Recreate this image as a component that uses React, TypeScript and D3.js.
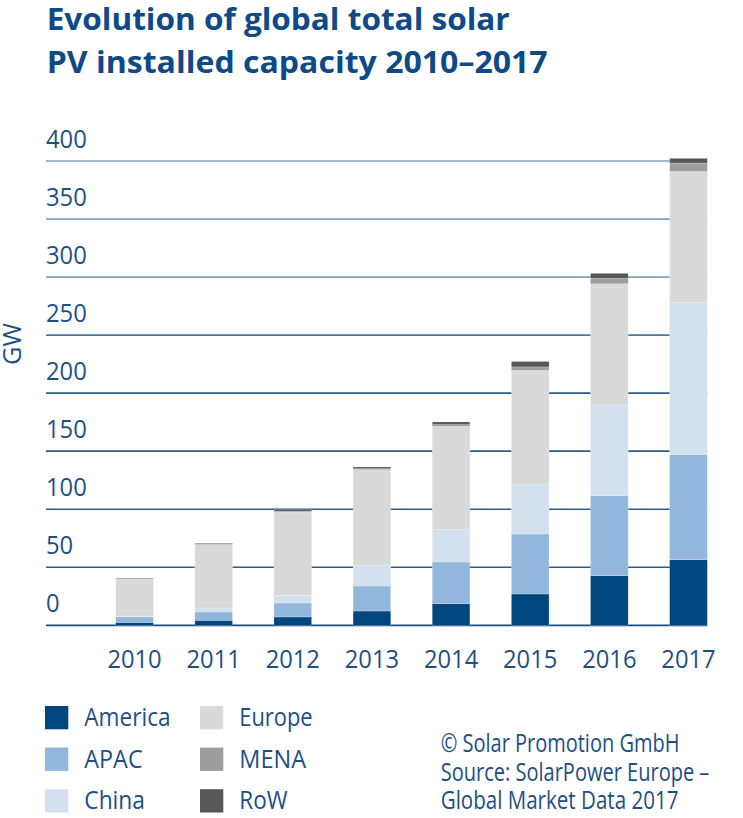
import React from "react";
import * as d3 from "d3";

const years = ["2010", "2011", "2012", "2013", "2014", "2015", "2016", "2017"];
const america = [2.5, 4.3, 7.2, 12.3, 18.7, 27.0, 42.8, 56.6];
const apac = [4.7, 7.2, 12.0, 21.6, 35.9, 51.7, 69.0, 90.5];
const china = [0.8, 3.4, 6.6, 17.8, 27.8, 43.1, 78.1, 130.8];
const europe = [31.6, 54.6, 71.8, 82.4, 89.0, 97.9, 104.3, 113.1];
const mena = [0.3, 0.4, 0.8, 0.8, 1.5, 2.9, 4.7, 7.2];
const rowW = [0.6, 0.7, 1.2, 1.5, 2.3, 4.7, 4.3, 4.1];
const yTicks = [0, 50, 100, 150, 200, 250, 300, 350, 400];

const seriesNames = ["America", "APAC", "China", "Europe", "MENA", "RoW"];
const seriesValues = [america, apac, china, europe, mena, rowW];
const colors = ["#00477f", "#92b6dc", "#d3e0ee", "#d9d9d9", "#9d9d9d", "#575757"];
const legendWidths = [86.3, 58.3, 60.7, 73.3, 66.7, 48.3];

const TEXT = "#1d4f86";
const FONT = "'Open Sans', 'Noto Sans', sans-serif";

export default function App() {
  const y = d3.scaleLinear().domain([0, 400]).range([625.3, 161]);
  const x = d3.scaleBand<string>().domain(years).range([115.7, 707.3]).paddingInner(0.524).paddingOuter(0);

  const table = years.map((yr, i) => {
    const o: any = { year: yr };
    seriesNames.forEach((n, k) => (o[n] = seriesValues[k][i]));
    return o;
  });
  const stacked = d3.stack().keys(seriesNames)(table);

  const gridColor = (v: number) =>
    v >= 300 ? "#7ea3c1" : v === 250 ? "#4d79a1" : v === 0 ? "#1d4c7c" : "#2d5c89";

  return (
    <svg
      width={743}
      height={818}
      style={{ position: "absolute", left: 0, top: 0, background: "#fff" }}
      fontFamily={FONT}
    >
      {/* Title */}
      <text x={46.7} y={30} fontSize={31} fontWeight={700} fill="#0d4a87" textLength={463} lengthAdjust="spacingAndGlyphs">
        Evolution of global total solar
      </text>
      <text x={46.7} y={72.7} fontSize={31} fontWeight={700} fill="#0d4a87" textLength={501} lengthAdjust="spacingAndGlyphs">
        PV installed capacity 2010–2017
      </text>

      {/* Gridlines and y labels */}
      {yTicks.map((v) => (
        <g key={v}>
          <line x1={46} x2={707.3} y1={y(v)} y2={y(v)} stroke={gridColor(v)} strokeWidth={1.7} />
          <text
            x={46}
            y={y(v) - 13}
            fontSize={26}
            fill={TEXT}
            textLength={13.6 * String(v).length}
            lengthAdjust="spacingAndGlyphs"
          >
            {v}
          </text>
        </g>
      ))}

      {/* GW axis label */}
      <text
        transform={`translate(21,344) rotate(-90)`}
        textAnchor="middle"
        fontSize={26}
        fill={TEXT}
        textLength={42}
        lengthAdjust="spacingAndGlyphs"
      >
        GW
      </text>

      {/* Bars */}
      {stacked.map((layer, k) => (
        <g key={layer.key} fill={colors[k]}>
          {layer.map((d, i) => (
            <rect
              key={i}
              x={x(years[i])}
              width={x.bandwidth()}
              y={y(d[1])}
              height={Math.max(0, y(d[0]) - y(d[1]))}
              stroke="#ffffff"
              strokeOpacity={0.35}
              strokeWidth={0.6}
            />
          ))}
        </g>
      ))}

      {/* Year labels */}
      {years.map((yr) => (
        <text
          key={yr}
          x={(x(yr) as number) + x.bandwidth() / 2}
          y={668.3}
          textAnchor="middle"
          fontSize={26}
          fill={TEXT}
          textLength={54.3}
          lengthAdjust="spacingAndGlyphs"
        >
          {yr}
        </text>
      ))}

      {/* Legend */}
      {seriesNames.map((n, k) => {
        const col = Math.floor(k / 3);
        const r = k % 3;
        const rx = col === 0 ? 45 : 200;
        const ry = 706 + r * 41.6;
        return (
          <g key={n}>
            <rect x={rx} y={ry} width={23.3} height={23.3} fill={colors[k]} />
            <text
              x={rx + 39.3}
              y={ry + 20.2}
              fontSize={26}
              fill={TEXT}
              textLength={legendWidths[k]}
              lengthAdjust="spacingAndGlyphs"
            >
              {n}
            </text>
          </g>
        );
      })}

      {/* Source */}
      <text x={440.7} y={751.7} fontSize={25.5} fill={TEXT} textLength={238.7} lengthAdjust="spacingAndGlyphs">
        © Solar Promotion GmbH
      </text>
      <text x={440.7} y={781} fontSize={25.5} fill={TEXT} textLength={268.7} lengthAdjust="spacingAndGlyphs">
        Source: SolarPower Europe –
      </text>
      <text x={440.7} y={809.3} fontSize={25.5} fill={TEXT} textLength={237.7} lengthAdjust="spacingAndGlyphs">
        Global Market Data 2017
      </text>
    </svg>
  );
}
